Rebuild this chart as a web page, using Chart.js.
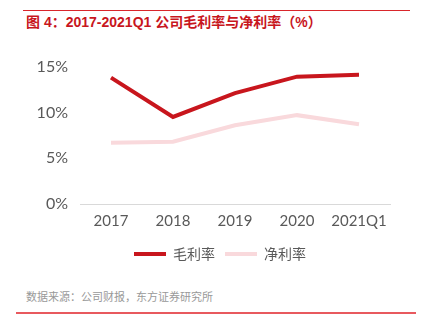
<!DOCTYPE html>
<html>
<head>
<meta charset="utf-8">
<script src="https://cdn.jsdelivr.net/npm/chart.js@4"></script>
<style>
  body { margin: 0; width: 427px; height: 323px; background: #fff; position: relative; overflow: hidden; font-family: "Noto Sans CJK SC", sans-serif; }
  #topline { position: absolute; left: 23px; top: 10px; width: 387px; height: 1px; background: #d9262b; }
  #title { position: absolute; left: 26px; top: 11px; font-size: 14px; font-weight: bold; color: #c8161d; white-space: nowrap; font-family: "Liberation Sans", "Noto Sans CJK SC", sans-serif; }
  #wrap { position: absolute; left: 0; top: 45px; width: 427px; height: 226px; }
  #source { position: absolute; left: 26px; top: 288px; font-size: 11px; color: #999; white-space: nowrap; }
  #bottomline { position: absolute; left: 16px; top: 312px; width: 400px; height: 2px; background: #e8595e; }
</style>
</head>
<body>
<div id="topline"></div>
<div id="title">图 4：2017-2021Q1 公司毛利率与净利率（%）</div>
<div id="wrap"><canvas id="chart"></canvas></div>
<div id="source">数据来源：公司财报，东方证券研究所</div>
<div id="bottomline"></div>
<script>
const labels = ["2017", "2018", "2019", "2020", "2021Q1"];
const grossMargin = [13.8, 9.5, 12.1, 13.9, 14.1];
const netMargin = [6.7, 6.8, 8.6, 9.7, 8.7];
const yTicks = [0, 5, 10, 15];

document.addEventListener("DOMContentLoaded", function () {
    const ctx = document.getElementById("chart");
    new Chart(ctx, {
        type: "line",
        data: {
            labels: labels,
            datasets: [
                {
                    label: "毛利率",
                    data: grossMargin,
                    borderColor: "#c8161d",
                    backgroundColor: "#c8161d",
                    borderWidth: 4,
                    pointRadius: 0,
                    tension: 0,
                },
                {
                    label: "净利率",
                    data: netMargin,
                    borderColor: "#f9d9dc",
                    backgroundColor: "#f9d9dc",
                    borderWidth: 4,
                    pointRadius: 0,
                    tension: 0,
                },
            ],
        },
        options: {
            responsive: true,
            maintainAspectRatio: false,
            animation: false,
            layout: { padding: { top: 21, right: 12, left: 25, bottom: 0 } },
            scales: {
                x: {
                    offset: true,
                    grid: { display: false, drawTicks: false },
                    border: { color: "#d9d9d9", width: 1 },
                    ticks: {
                        color: "#595959",
                        font: { family: "Lato", size: 15 },
                        padding: 8,
                        maxRotation: 0,
                    },
                    afterFit: function (scale) {
                        scale.height = 33;
                    },
                },
                y: {
                    min: 0,
                    max: 15,
                    afterBuildTicks: function (scale) {
                        scale.ticks = yTicks.map((v) => ({ value: v }));
                    },
                    grid: { display: false, drawTicks: false },
                    border: { display: false },
                    ticks: {
                        color: "#595959",
                        font: { family: "Lato", size: 16 },
                        padding: 12,
                        callback: function (value) {
                            return value + "%";
                        },
                    },
                    afterFit: function (scale) {
                        scale.width = 55;
                    },
                },
                // empty right axis, only keeps room on the right side
                yRight: {
                    position: "right",
                    grid: { display: false, drawTicks: false },
                    border: { display: false },
                    ticks: { display: false },
                    afterFit: function (scale) {
                        scale.width = 25;
                    },
                },
            },
            plugins: {
                legend: {
                    position: "bottom",
                    labels: {
                        boxWidth: 32,
                        boxHeight: 0,
                        padding: 10,
                        color: "#595959",
                        font: { family: "Noto Sans CJK SC", size: 14 },
                    },
                },
                tooltip: { enabled: false },
            },
        },
    });
});
</script>
</body>
</html>
